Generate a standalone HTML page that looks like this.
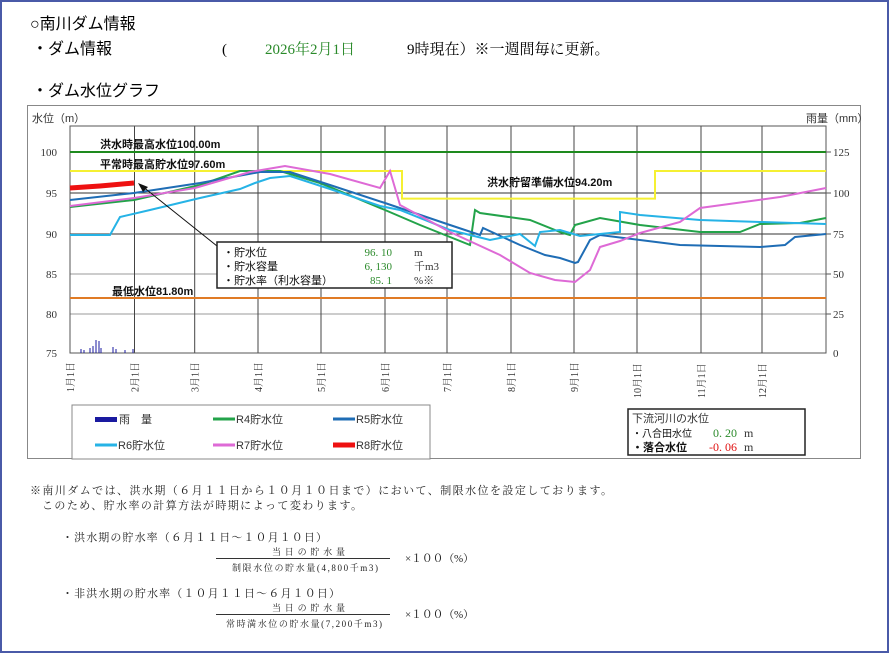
<!DOCTYPE html>
<html><head><meta charset="utf-8"><style>
html,body{margin:0;padding:0;background:#fff;}
svg{display:block;font-family:"Liberation Sans","Noto Sans CJK JP",sans-serif;}
.s{font-family:"Liberation Serif","Noto Serif CJK SC",serif;}
</style></head><body>
<svg width="890" height="654" viewBox="0 0 890 654" xmlns="http://www.w3.org/2000/svg">
<rect x="1" y="1" width="887" height="651" fill="#fff" stroke="#4a5aa8" stroke-width="2"/>
<text x="30" y="29" font-size="16" fill="#000">○南川ダム情報</text>
<text x="32" y="54" font-size="16" fill="#000">・ダム情報</text>
<text x="222" y="54" font-size="15" class="s">(</text>
<text x="265" y="54" font-size="15" class="s" fill="#2a8a2a">2026年2月1日</text>
<text x="407" y="54" font-size="15" class="s">9時現在）※一週間毎に更新。</text>
<text x="32" y="96" font-size="16">・ダム水位グラフ</text>
<rect x="27.5" y="105.5" width="833" height="353" fill="#fff" stroke="#888" stroke-width="1"/>
<text x="32" y="122" font-size="11" fill="#333">水位（m）</text>
<text x="806" y="122" font-size="11" fill="#333">雨量（mm）</text>
<g stroke="#aaa" stroke-width="1">
<line x1="70" y1="193" x2="826" y2="193" stroke="#333"/>
<line x1="70" y1="234" x2="826" y2="234" stroke="#333"/>
<line x1="70" y1="274" x2="826" y2="274" stroke="#999"/>
<line x1="70" y1="314" x2="826" y2="314" stroke="#999"/>
<line x1="134.5" y1="126" x2="134.5" y2="353" stroke="#444"/>
<line x1="194.7" y1="126" x2="194.7" y2="353" stroke="#444"/>
<line x1="258" y1="126" x2="258" y2="353" stroke="#444"/>
<line x1="321" y1="126" x2="321" y2="353" stroke="#444"/>
<line x1="385" y1="126" x2="385" y2="353" stroke="#444"/>
<line x1="447" y1="126" x2="447" y2="353" stroke="#444"/>
<line x1="511" y1="126" x2="511" y2="353" stroke="#444"/>
<line x1="574" y1="126" x2="574" y2="353" stroke="#444"/>
<line x1="637" y1="126" x2="637" y2="353" stroke="#444"/>
<line x1="701" y1="126" x2="701" y2="353" stroke="#444"/>
<line x1="762" y1="126" x2="762" y2="353" stroke="#444"/>
</g>
<rect x="70" y="126" width="756" height="227" fill="none" stroke="#555"/>
<g font-size="11" fill="#333" class="s" text-anchor="end">
<text x="57" y="156">100</text><text x="57" y="197">95</text><text x="57" y="238">90</text>
<text x="57" y="278">85</text><text x="57" y="318">80</text><text x="57" y="357">75</text>
</g>
<g font-size="11" fill="#333" class="s">
<text x="833" y="156">125</text><text x="833" y="197">100</text><text x="833" y="238">75</text>
<text x="833" y="278">50</text><text x="833" y="318">25</text><text x="833" y="357">0</text>
</g>
<g stroke="#555"><line x1="826" y1="152" x2="831" y2="152"/><line x1="826" y1="193" x2="831" y2="193"/><line x1="826" y1="234" x2="831" y2="234"/><line x1="826" y1="274" x2="831" y2="274"/><line x1="826" y1="314" x2="831" y2="314"/></g>
<g font-size="10" fill="#333" class="s">
<text transform="translate(74,392) rotate(-90)">1月1日</text>
<text transform="translate(138.5,392) rotate(-90)">2月1日</text>
<text transform="translate(198.7,392) rotate(-90)">3月1日</text>
<text transform="translate(262,392) rotate(-90)">4月1日</text>
<text transform="translate(325,392) rotate(-90)">5月1日</text>
<text transform="translate(389,392) rotate(-90)">6月1日</text>
<text transform="translate(451,392) rotate(-90)">7月1日</text>
<text transform="translate(515,392) rotate(-90)">8月1日</text>
<text transform="translate(578,392) rotate(-90)">9月1日</text>
<text transform="translate(641,398) rotate(-90)">10月1日</text>
<text transform="translate(705,398) rotate(-90)">11月1日</text>
<text transform="translate(766,398) rotate(-90)">12月1日</text>
</g>
<g stroke="#1a1aa0" stroke-width="1">
<line x1="81" y1="353" x2="81" y2="349"/><line x1="84" y1="353" x2="84" y2="350"/>
<line x1="90" y1="353" x2="90" y2="348"/><line x1="93" y1="353" x2="93" y2="346"/>
<line x1="96" y1="353" x2="96" y2="340"/><line x1="99" y1="353" x2="99" y2="341"/>
<line x1="101" y1="353" x2="101" y2="348"/><line x1="113" y1="353" x2="113" y2="347"/>
<line x1="116" y1="353" x2="116" y2="349"/><line x1="125" y1="353" x2="125" y2="350"/>
<line x1="133" y1="353" x2="133" y2="349"/>
</g>
<line x1="70" y1="152" x2="826" y2="152" stroke="#1e8a1e" stroke-width="2"/>
<line x1="70" y1="298" x2="826" y2="298" stroke="#e07b25" stroke-width="2"/>
<polyline fill="none" stroke="#f5f032" stroke-width="2" points="70,171 402,171 402,198.6 655,198.6 655,171 826,171"/>
<polyline fill="none" stroke="#23a34a" stroke-width="2" points="70,207 134,200 200,185 240,171 280,171 320,183 385,210 420,225 470,245 475,210 480,213 530,220 560,232 570,235 575,225 600,218 640,225 700,232 740,232 760,224 800,223 826,218"/>
<polyline fill="none" stroke="#1f6db5" stroke-width="2" points="70,200 134,193 200,183 260,172 290,172 330,185 385,203 450,225 480,235 483,228 520,245 545,255 560,258 575,263 578,262 590,240 600,235 640,240 680,245 760,247 785,245 795,237 826,234"/>
<polyline fill="none" stroke="#26b3e6" stroke-width="2" points="70,235 110,235 120,217 150,210 200,198 240,189 255,183 270,178 290,176 330,189 380,206 400,210 450,230 490,240 520,234 535,246 540,232 560,230 580,236 620,232 620,212 640,215 700,220 760,222 826,224"/>
<polyline fill="none" stroke="#de6ad6" stroke-width="2" points="70,206 134,198 195,188 250,172 285,166 330,174 380,188 390,171 400,205 450,232 500,255 530,273 555,280 575,282 590,270 600,247 620,241 640,233 680,222 700,208 780,197 826,188"/>
<polyline fill="none" stroke="#ee1111" stroke-width="5" points="70,188 100,186 134,183"/>
<g font-size="11" font-weight="bold" fill="#111">
<text x="100" y="148">洪水時最高水位100.00m</text>
<text x="100" y="168">平常時最高貯水位97.60m</text>
<text x="487" y="186">洪水貯留準備水位94.20m</text>
<text x="112" y="295">最低水位81.80m</text>
</g>
<line x1="217" y1="246" x2="142" y2="186" stroke="#111" stroke-width="1"/>
<polygon points="138,183 148,187 143,192" fill="#111"/>
<rect x="217" y="242" width="235" height="46" fill="#fff" stroke="#222" stroke-width="1.5"/>
<g font-size="11" fill="#111">
<text x="223" y="256">・貯水位</text><text x="223" y="270">・貯水容量</text><text x="223" y="284">・貯水率（利水容量）</text>
</g>
<g font-size="11" fill="#2a8a2a" class="s" text-anchor="end">
<text x="392" y="256">96. 10</text><text x="392" y="270">6, 130</text><text x="392" y="284">85. 1</text>
</g>
<g font-size="11" fill="#333" class="s">
<text x="414" y="256">m</text><text x="414" y="270">千m3</text><text x="414" y="284">%※</text>
</g>
<rect x="72" y="405" width="358" height="54" fill="#fff" stroke="#888"/>
<g font-size="11" fill="#333">
<rect x="95" y="417" width="22" height="5" fill="#1a1aa0"/><text x="119" y="423">雨　量</text>
<line x1="213" y1="419" x2="235" y2="419" stroke="#23a34a" stroke-width="3"/><text x="236" y="423">R4貯水位</text>
<line x1="333" y1="419" x2="355" y2="419" stroke="#1f6db5" stroke-width="3"/><text x="356" y="423">R5貯水位</text>
<line x1="95" y1="445" x2="117" y2="445" stroke="#26b3e6" stroke-width="3"/><text x="118" y="449">R6貯水位</text>
<line x1="213" y1="445" x2="235" y2="445" stroke="#de6ad6" stroke-width="3"/><text x="236" y="449">R7貯水位</text>
<line x1="333" y1="445" x2="355" y2="445" stroke="#ee1111" stroke-width="5"/><text x="356" y="449">R8貯水位</text>
</g>
<rect x="628" y="409" width="177" height="46" fill="#fff" stroke="#222" stroke-width="1.5"/>
<text x="632" y="422" font-size="11" fill="#333">下流河川の水位</text>
<text x="632" y="437" font-size="10" fill="#111">・八合田水位</text>
<text x="632" y="451" font-size="11" font-weight="bold" fill="#111">・落合水位</text>
<text x="737" y="437" font-size="12" class="s" fill="#2a8a2a" text-anchor="end">0. 20</text>
<text x="737" y="451" font-size="12" class="s" fill="#e01010" text-anchor="end">-0. 06</text>
<text x="744" y="437" font-size="12" class="s" fill="#333">m</text>
<text x="744" y="451" font-size="12" class="s" fill="#333">m</text>
<g font-size="11" fill="#222" class="s">
<text x="30" y="494" textLength="582" lengthAdjust="spacing">※南川ダムでは、洪水期（６月１１日から１０月１０日まで）において、制限水位を設定しております。</text>
<text x="42" y="509" textLength="320" lengthAdjust="spacing">このため、貯水率の計算方法が時期によって変わります。</text>
<text x="62" y="541" textLength="265" lengthAdjust="spacing">・洪水期の貯水率（６月１１日～１０月１０日）</text>
<text x="272" y="555" font-size="9" textLength="73" lengthAdjust="spacing">当日の貯水量</text>
<text x="232" y="571" font-size="9" textLength="146" lengthAdjust="spacing">制限水位の貯水量(4,800千m3)</text>
<text x="405" y="562" textLength="69" lengthAdjust="spacing">×１００（%）</text>
<text x="62" y="597" textLength="278" lengthAdjust="spacing">・非洪水期の貯水率（１０月１１日～６月１０日）</text>
<text x="272" y="611" font-size="9" textLength="73" lengthAdjust="spacing">当日の貯水量</text>
<text x="226" y="627" font-size="9" textLength="156" lengthAdjust="spacing">常時満水位の貯水量(7,200千m3)</text>
<text x="405" y="618" textLength="69" lengthAdjust="spacing">×１００（%）</text>
</g>
<line x1="216" y1="558.5" x2="390" y2="558.5" stroke="#333"/>
<line x1="216" y1="614.5" x2="390" y2="614.5" stroke="#333"/>
</svg>
</body></html>
